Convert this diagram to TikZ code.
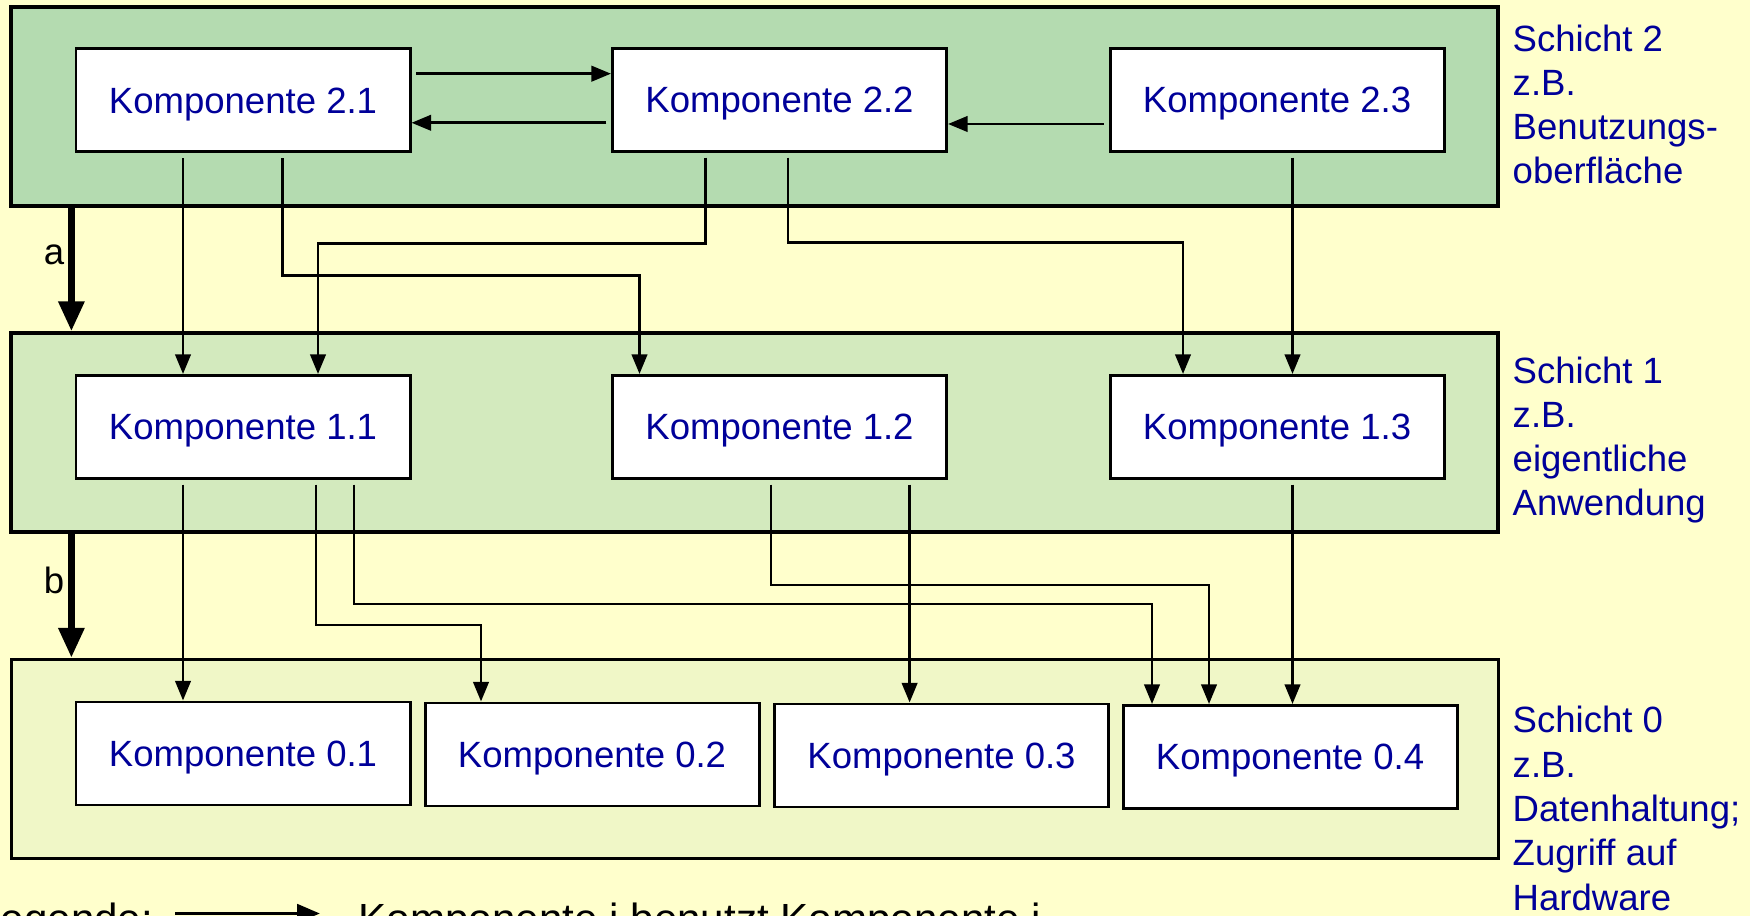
\documentclass[tikz,border=0pt]{standalone}
\usepackage{fontspec}
\setmainfont{Liberation Sans}
\usetikzlibrary{arrows.meta}
\definecolor{hgelb}{RGB}{255,255,204}
\definecolor{gruen2}{RGB}{180,219,176}
\definecolor{gruen1}{RGB}{211,234,190}
\definecolor{gruen0}{RGB}{240,247,199}
\definecolor{kblau}{RGB}{0,0,153}
\begin{document}
\begin{tikzpicture}[>={Triangle[length=5.6pt,width=4.4pt]}, font=\fontsize{10.4}{12.6}\selectfont,
  komp/.style={draw, line width=0.85pt, fill=white, minimum width=3.34cm, minimum height=1.03cm, inner sep=0pt, text=kblau, text height=0.72em, text depth=0pt},
  schicht/.style={draw, line width=0.95pt, minimum width=14.87cm, minimum height=1.99cm, inner sep=0pt},
  benutzt/.style={->, line width=0.8pt, shorten <=1.3pt},
  dick/.style={-{Triangle[length=8.5pt,width=7pt]}, line width=2pt},
  beschr/.style={anchor=base west, align=left, text=kblau, inner sep=0pt}]
\fill[hgelb] (0,0) rectangle (17.5,-9.16);
\useasboundingbox (0,0) rectangle (17.5,-9.16);
% Schichten
\node[schicht, fill=gruen2] (s2) at (7.545,-1.065) {};
\node[schicht, fill=gruen1] (s1) at (7.545,-4.325) {};
\node[schicht, fill=gruen0] (s0) at (7.55,-7.59) {};
\draw[dick] (0.714,0 |- s2.south) -- (0.714,0 |- s1.north);
\draw[dick] (0.714,0 |- s1.south) -- (0.714,0 |- s0.north);
\node (a) at (0.54,-2.545) {a};
\node (b) at (0.54,-5.80) {b};
% Komponenten
\node[komp] (k21) at (2.43,-1.005) {Komponente 2.1};
\node[komp] (k22) at (7.795,-1.0) {Komponente 2.2};
\node[komp] (k23) at (12.77,-1.0) {Komponente 2.3};
\node[komp] (k11) at (2.43,-4.27) {Komponente 1.1};
\node[komp] (k12) at (7.795,-4.27) {Komponente 1.2};
\node[komp] (k13) at (12.77,-4.27) {Komponente 1.3};
\node[komp] (k01) at (2.43,-7.535) {Komponente 0.1};
\node[komp] (k02) at (5.92,-7.545) {Komponente 0.2};
\node[komp] (k03) at (9.415,-7.555) {Komponente 0.3};
\node[komp] (k04) at (12.90,-7.57) {Komponente 0.4};
% Benutzt-Beziehungen
\draw[benutzt] (k21.east |- 0,-0.737) -- (k22.west |- 0,-0.737);
\draw[benutzt] (k22.west |- 0,-1.228) -- (k21.east |- 0,-1.228);
\draw[benutzt] (k23.west |- 0,-1.24) -- (k22.east |- 0,-1.24);
\draw[benutzt] (1.83,0 |- k21.south) -- (1.83,0 |- k11.north);
\draw[benutzt] (2.824,0 |- k21.south) |- (6.395,-2.757) -- (6.395,0 |- k12.north);
\draw[benutzt] (7.054,0 |- k22.south) |- (3.18,-2.433) -- (3.18,0 |- k11.north);
\draw[benutzt] (7.88,0 |- k22.south) |- (11.83,-2.422) -- (11.83,0 |- k13.north);
\draw[benutzt] (12.925,0 |- k23.south) -- (12.925,0 |- k13.north);
\draw[benutzt] (1.83,0 |- k11.south) -- (1.83,0 |- k01.north);
\draw[benutzt] (3.16,0 |- k11.south) |- (4.81,-6.25) -- (4.81,0 |- k02.north);
\draw[benutzt] (3.54,0 |- k11.south) |- (11.52,-6.04) -- (11.52,0 |- k04.north);
\draw[benutzt] (9.096,0 |- k12.south) -- (9.096,0 |- k03.north);
\draw[benutzt] (7.71,0 |- k12.south) |- (12.09,-5.85) -- (12.09,0 |- k04.north);
\draw[benutzt] (12.925,0 |- k13.south) -- (12.925,0 |- k04.north);
% Beschriftung rechts (base = letzte Zeile)
\node[beschr] (t2) at (15.12,-1.84) {Schicht 2\\z.B.\\Benutzungs-\\oberfläche};
\node[beschr] (t1) at (15.12,-5.16) {Schicht 1\\z.B.\\eigentliche\\Anwendung};
\node[beschr] (t0) at (15.12,-9.10) {Schicht 0\\z.B.\\Datenhaltung;\\Zugriff auf\\Hardware};
% Legende
\node[anchor=base west, inner sep=0pt, font=\fontsize{12}{14}\selectfont] (leg) at (-0.235,-9.33) {Legende:};
\node[anchor=base west, inner sep=0pt, font=\fontsize{12}{14}\selectfont] (legtxt) at (3.58,-9.33) {Komponente i benutzt Komponente j};
\coordinate (l1) at (1.75,-9.135);
\coordinate (l2) at (3.20,-9.135);
\draw[-{Triangle[length=6.5pt,width=5.2pt]}, line width=1.1pt] (l1) -- (l2);
\end{tikzpicture}
\end{document}
